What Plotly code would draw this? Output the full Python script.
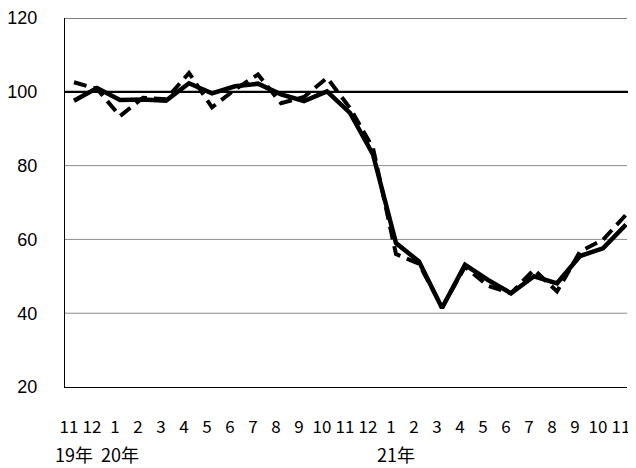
import plotly.graph_objects as go

months = ["11", "12", "1", "2", "3", "4", "5", "6", "7", "8", "9", "10", "11", "12",
          "1", "2", "3", "4", "5", "6", "7", "8", "9", "10", "11"]
year_labels = ["19年", "", "20年", "", "", "", "", "", "", "", "", "", "", "",
               "21年", "", "", "", "", "", "", "", "", "", ""]
solid = [97.6, 101.0, 97.8, 97.9, 97.6, 102.3, 99.6, 101.5, 102.2, 99.3, 97.5, 100.1,
         94.3, 83.0, 59.0, 54.0, 41.4, 53.1, 49.0, 45.4, 50.0, 48.1, 55.5, 57.6, 64.0]
dashed = [102.6, 100.8, 93.4, 98.4, 98.0, 105.1, 95.8, 100.6, 104.7, 96.9, 98.6, 103.8,
          95.6, 84.8, 56.0, 53.4, 41.6, 52.6, 47.4, 45.4, 51.8, 45.9, 56.7, 59.9, 66.7]
baseline = 100
y_ticks = [20, 40, 60, 80, 100, 120]
grid_vals = [40, 60, 80]

x = list(range(len(months)))
xfont = "Noto Sans CJK JP"

fig = go.Figure()
fig.add_trace(go.Scatter(x=x, y=dashed, mode="lines",
                         line=dict(color="black", width=4, dash="13px,7px"),
                         showlegend=False, cliponaxis=False))
fig.add_trace(go.Scatter(x=x, y=solid, mode="lines",
                         line=dict(color="black", width=4.5),
                         showlegend=False, cliponaxis=False))

for g in grid_vals:
    fig.add_shape(type="line", xref="paper", yref="y", x0=0, x1=1, y0=g, y1=g,
                  line=dict(color="#8c8c8c", width=1), layer="below")
# baseline at 100 and top border
fig.add_shape(type="line", xref="paper", yref="y", x0=0, x1=1.003, y0=baseline, y1=baseline,
              line=dict(color="black", width=2.2), layer="below")
fig.add_shape(type="line", xref="paper", yref="y", x0=0, x1=1, y0=120, y1=120,
              line=dict(color="black", width=1), layer="below")

for i, lab in enumerate(year_labels):
    if lab:
        fig.add_annotation(x=i, y=-0.182, xref="x", yref="paper", text=lab, showarrow=False,
                           xanchor="center", yanchor="middle",
                           font=dict(family=xfont, size=18, color="black"))

fig.update_layout(
    width=628, height=460,
    margin=dict(l=57, r=9, t=10, b=81),
    paper_bgcolor="white", plot_bgcolor="white",
    showlegend=False,
    xaxis=dict(range=[-0.391, 24.043], tickmode="array", tickvals=x, ticktext=months,
               automargin=False,
               showgrid=False, zeroline=False, showline=True, linecolor="black", linewidth=1,
               ticks="", ticklabelstandoff=25, ticklabelshift=-5,
               tickfont=dict(family=xfont, size=17, color="black")),
    yaxis=dict(range=[20, 120], tickmode="array", tickvals=y_ticks,
               automargin=False,
               showgrid=False, zeroline=False,
               showline=True, linecolor="black", linewidth=1,
               ticks="", ticklabelstandoff=23,
               tickfont=dict(family="Liberation Sans", size=18, color="black")),
)

fig.write_html("out.html")
